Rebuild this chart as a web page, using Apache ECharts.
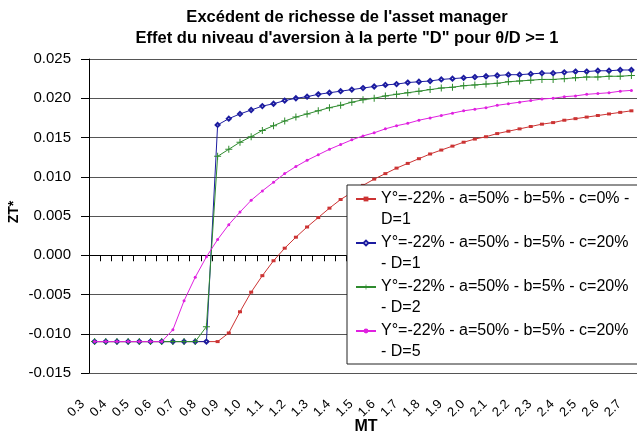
<!DOCTYPE html>
<html>
<head>
<meta charset="utf-8">
<script src="https://cdn.jsdelivr.net/npm/echarts@6/dist/echarts.min.js"></script>
<style>
html,body{margin:0;padding:0;background:#fff;}
#chart{width:637px;height:439px;}
</style>
</head>
<body>
<div id="chart"></div>
<script>
const titleLines = ["Excédent de richesse de l'asset manager", "Effet du niveau d'aversion à la perte \"D\" pour θ/D >= 1"];
const xAxisTitle = "MT";
const yAxisTitle = "ZT*";

const categories = ["0.30","0.35","0.40","0.45","0.50","0.55","0.60","0.65","0.70","0.75",
  "0.80","0.85","0.90","0.95","1.00","1.05","1.10","1.15","1.20","1.25",
  "1.30","1.35","1.40","1.45","1.50","1.55","1.60","1.65","1.70","1.75",
  "1.80","1.85","1.90","1.95","2.00","2.05","2.10","2.15","2.20","2.25",
  "2.30","2.35","2.40","2.45","2.50","2.55","2.60","2.65","2.70"];

const yTicks = [-0.015, -0.010, -0.005, 0.000, 0.005, 0.010, 0.015, 0.020, 0.025];

const seriesNames = [
  "Y°=-22% - a=50% - b=5% - c=0% -\nD=1",
  "Y°=-22% - a=50% - b=5% - c=20%\n- D=1",
  "Y°=-22% - a=50% - b=5% - c=20%\n- D=2",
  "Y°=-22% - a=50% - b=5% - c=20%\n- D=5"
];

const redC0D1 = [-0.011,-0.011,-0.011,-0.011,-0.011,-0.011,-0.011,-0.011,-0.011,-0.011,
  -0.011,-0.011,-0.0099,-0.0072,-0.0047,-0.0026,-0.0007,0.0009,0.0023,0.0036,
  0.0048,0.0060,0.0071,0.0080,0.0089,0.0097,0.0104,0.0111,0.0117,0.0123,
  0.0129,0.0134,0.0139,0.0144,0.0148,0.0151,0.0155,0.0158,0.0161,0.0164,
  0.0167,0.0169,0.0172,0.0174,0.0176,0.0178,0.0180,0.0182,0.0184];

const blueC20D1 = [-0.011,-0.011,-0.011,-0.011,-0.011,-0.011,-0.011,-0.011,-0.011,-0.011,
  -0.011,0.0166,0.0174,0.0180,0.0185,0.0190,0.0193,0.0197,0.0200,0.0202,
  0.0205,0.0207,0.0209,0.0211,0.0213,0.0215,0.0217,0.0218,0.0220,0.0221,
  0.0222,0.0224,0.0225,0.0226,0.0227,0.0228,0.0229,0.0230,0.0230,0.0231,
  0.0232,0.0232,0.0233,0.0234,0.0234,0.0235,0.0235,0.0236,0.0236];

const greenC20D2 = [-0.011,-0.011,-0.011,-0.011,-0.011,-0.011,-0.011,-0.011,-0.011,-0.011,
  -0.0091,0.0126,0.0135,0.0144,0.0151,0.0159,0.0165,0.0171,0.0176,0.0180,
  0.0184,0.0188,0.0191,0.0195,0.0198,0.0200,0.0203,0.0205,0.0207,0.0209,
  0.0211,0.0213,0.0214,0.0216,0.0217,0.0218,0.0219,0.0221,0.0222,0.0223,
  0.0224,0.0224,0.0225,0.0226,0.0227,0.0227,0.0228,0.0228,0.0229];

const magentaC20D5 = [-0.011,-0.011,-0.011,-0.011,-0.011,-0.011,-0.011,-0.0095,-0.0058,-0.0028,
  -0.0002,0.0020,0.0039,0.0055,0.0070,0.0082,0.0093,0.0104,0.0113,0.0121,
  0.0128,0.0135,0.0141,0.0147,0.0152,0.0156,0.0161,0.0165,0.0168,0.0172,
  0.0175,0.0178,0.0181,0.0184,0.0186,0.0188,0.0191,0.0193,0.0195,0.0197,
  0.0199,0.0200,0.0202,0.0203,0.0205,0.0206,0.0207,0.0209,0.0210];

const FONT = "'Liberation Sans', Arial, sans-serif";
const colors = ['#cc3333', '#1c1ca0', '#2e8b2e', '#e020e0'];
const symbols = ['rect', 'emptyDiamond', 'path://M3,0h1v3h3v1h-3v3h-1v-3h-3v-1h3z', 'circle'];
const symbolSizes = [[4,3], 4, 7, 3];
const valueSets = [redC0D1, blueC20D1, greenC20D2, magentaC20D5];

const chart = echarts.init(document.getElementById('chart'), null, {renderer: 'canvas'});

const series = valueSets.map((vals, k) => ({
  name: seriesNames[k],
  type: 'line',
  data: vals,
  showAllSymbol: true,
  symbol: symbols[k],
  symbolSize: symbolSizes[k],
  lineStyle: {color: colors[k], width: 1},
  itemStyle: {color: colors[k], borderWidth: 1},
  emphasis: {disabled: true},
  z: 2 + k
}));

chart.setOption({
  animation: false,
  backgroundColor: '#fff',
  grid: {left: 89, top: 59, right: -6, bottom: 66, containLabel: false},
  xAxis: {
    type: 'category',
    data: categories,
    boundaryGap: true,
    axisLine: {lineStyle: {color: '#000', width: 1}},
    axisTick: {show: true, interval: 0, length: 6, lineStyle: {color: '#000'}},
    axisLabel: {
      interval: 1,
      rotate: 45,
      margin: 17,
      padding: [0, 17, 0, 0],
      color: '#000',
      fontSize: 13,
      fontFamily: FONT,
      formatter: v => Number(v).toFixed(1)
    },
    splitLine: {show: false}
  },
  yAxis: {
    type: 'value',
    min: yTicks[0],
    max: yTicks[yTicks.length - 1],
    interval: 0.005,
    axisLine: {show: true, lineStyle: {color: '#000', width: 1}},
    axisTick: {show: true, length: 8, lineStyle: {color: '#000'}},
    axisLabel: {
      margin: 18,
      color: '#000',
      fontSize: 15,
      fontFamily: FONT,
      formatter: v => v.toFixed(3)
    },
    splitLine: {show: true, lineStyle: {color: '#555', width: 1}}
  },
  legend: {
    orient: 'vertical',
    left: 347,
    top: 185,
    itemWidth: 20,
    itemHeight: 6,
    itemGap: -19,
    padding: [-17.5, 30, 1.5, 8],
    backgroundColor: '#fff',
    borderColor: '#222',
    borderWidth: 1,
    selectedMode: false,
    data: seriesNames,
    formatter: name => '\n' + name,
    textStyle: {
      color: '#000',
      fontSize: 16,
      fontFamily: FONT,
      lineHeight: 21
    }
  },
  graphic: [
    {type: 'text', x: 347, y: 17, silent: true,
     style: {text: titleLines[0], align: 'center', verticalAlign: 'middle', fill: '#000',
       font: "bold 16.5px 'Liberation Sans', Arial, sans-serif"}},
    {type: 'text', x: 347, y: 38.5, silent: true,
     style: {text: titleLines[1], align: 'center', verticalAlign: 'middle', fill: '#000',
       font: "bold 16.5px 'Liberation Sans', Arial, sans-serif"}},
    {type: 'text', x: 366, y: 427, silent: true,
     style: {text: xAxisTitle, align: 'center', verticalAlign: 'middle', fill: '#000',
       font: "bold 16px 'Liberation Sans', Arial, sans-serif"}},
    {type: 'text', x: 14, y: 212, rotation: Math.PI / 2, silent: true,
     style: {text: yAxisTitle, align: 'center', verticalAlign: 'middle', fill: '#000',
       font: "bold 14px 'Liberation Sans', Arial, sans-serif"}}
  ],
  series: series
});
</script>
</body>
</html>
